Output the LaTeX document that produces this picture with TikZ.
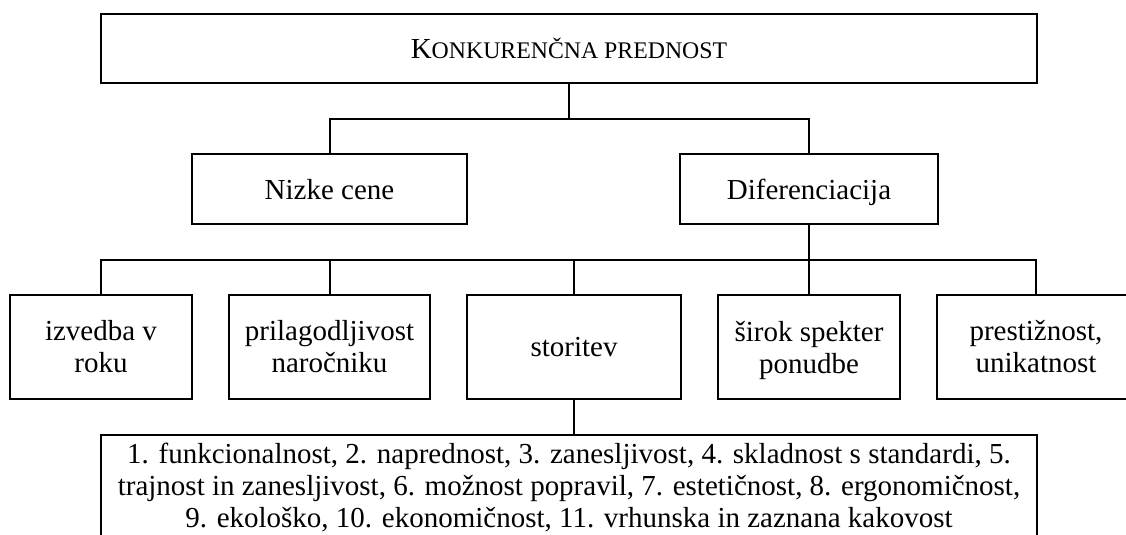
\documentclass[tikz,border=0pt]{standalone}
\usepackage{fontspec}
\setmainfont{Liberation Serif}
\usepackage{tikz}
\usetikzlibrary{positioning}

\begin{document}
\begin{tikzpicture}[
  node distance=35.5pt and 18.5pt,
  box/.style={draw, line width=1pt, align=center, outer sep=0pt,
    font=\fontsize{14.5pt}{16pt}\selectfont, minimum height=52pt, inner sep=2pt},
  midbox/.style={box, minimum height=35pt, text height=10pt, text depth=0pt},
  link/.style={line width=1pt}]
\useasboundingbox (0,0) rectangle (563pt,-267.5pt);
\clip (0,0) rectangle (563pt,-267.5pt);
% top of the tree
\node[box, minimum width=468pt, minimum height=34.5pt] (konk) at (284.5pt,-24.25pt)
  {K{\fontsize{11.9pt}{12pt}\selectfont ONKURENČNA PREDNOST}};
% bottom row
\node[box, minimum width=91pt] (izvedba) at (50.5pt,-173.5pt) {izvedba v\\roku};
\node[box, minimum width=100.5pt, right=of izvedba] (prilag) {prilagodljivost\\naročniku};
\node[box, minimum width=107pt, right=of prilag] (storitev) {storitev};
\node[box, minimum width=91pt, text depth=0pt, right=of storitev] (sirok) {širok spekter\\ponudbe};
\node[box, minimum width=99pt, right=of sirok] (prestiz) {prestižnost,\\unikatnost};
% middle row
\node[midbox, minimum width=137.5pt, above=of prilag] (nizke) {Nizke cene};
\node[midbox, minimum width=129pt, above=of sirok] (dif) {Diferenciacija};
% list of properties
\node[box, minimum width=468pt, minimum height=10pt, inner ysep=4pt, below=18pt of storitev,
  xshift=-2.5pt] (lastnosti)
  {1. funkcionalnost, 2. naprednost, 3. zanesljivost, 4. skladnost s standardi, 5.\\
   trajnost in zanesljivost, 6. možnost popravil, 7. estetičnost, 8. ergonomičnost,\\
   9. ekološko, 10. ekonomičnost, 11. vrhunska in zaznana kakovost};
\draw[link] (nizke.north) -- ++(0,17.5pt) -| (konk.south);
\draw[link] (dif.north) -- ++(0,17.5pt) -| (konk.south);
\foreach \n in {izvedba,prilag,storitev,sirok,prestiz}
  \draw[link] (\n.north) -- ++(0,17.5pt) -| (dif.south);
\draw[link] (storitev.south) -- (storitev.south |- lastnosti.north);
\end{tikzpicture}
\end{document}
